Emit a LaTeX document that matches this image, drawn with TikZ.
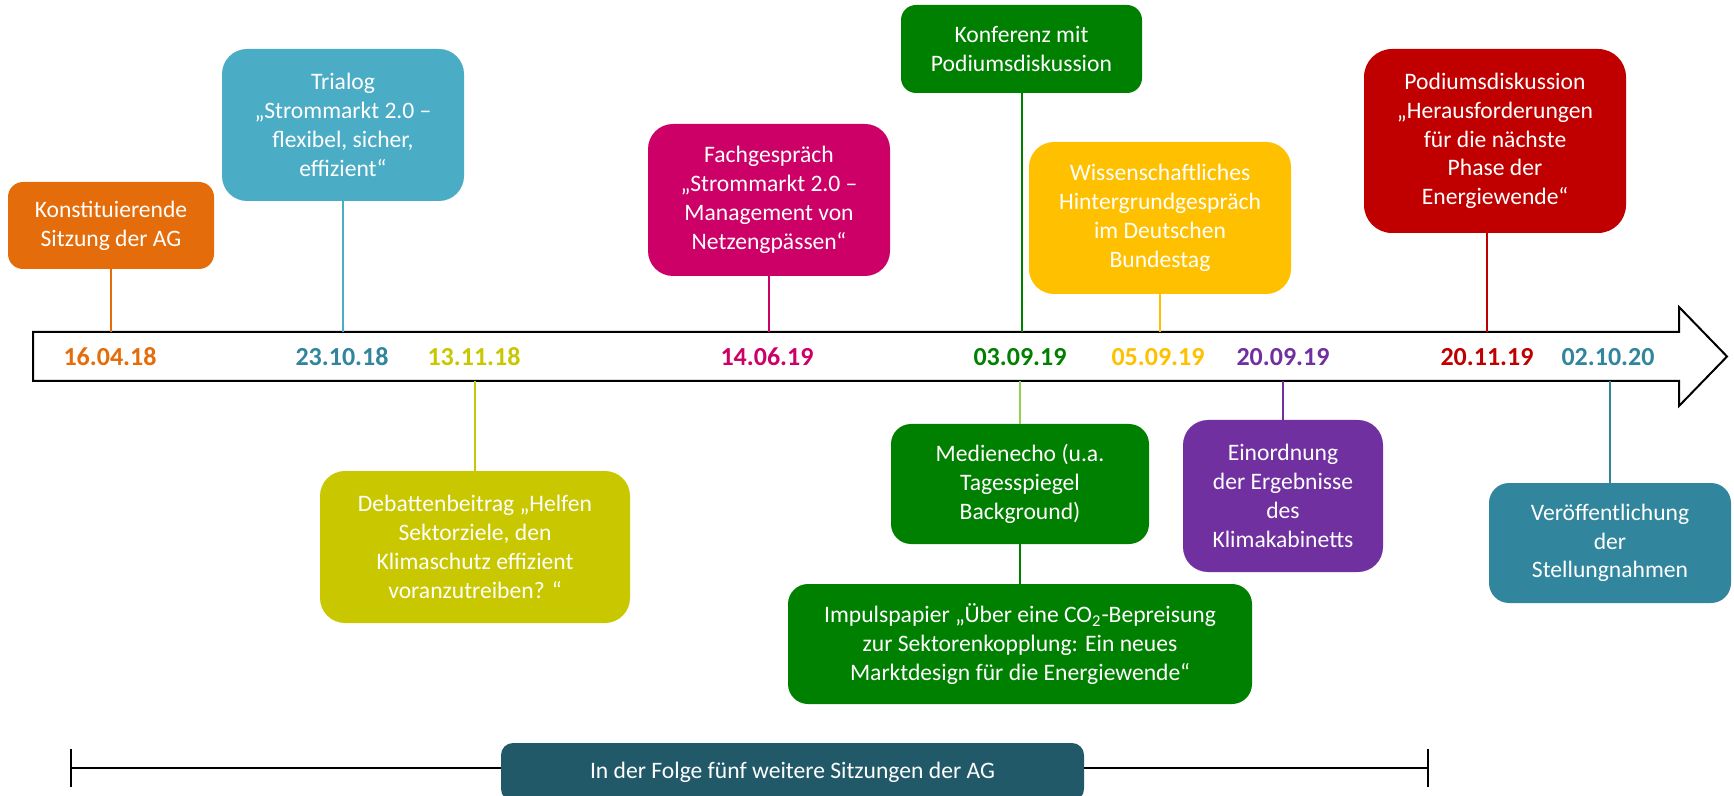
\documentclass[tikz,border=0pt]{standalone}
\usepackage{fontspec}
\setmainfont{Carlito}
\usetikzlibrary{calc}
\definecolor{corange}{HTML}{E46C0A}
\definecolor{clblue}{HTML}{4BACC6}
\definecolor{cteal}{HTML}{31859C}
\definecolor{cyg}{HTML}{C9C700}
\definecolor{cmag}{HTML}{CC0066}
\definecolor{cgreen}{HTML}{008000}
\definecolor{clgreen}{HTML}{92D050}
\definecolor{cgold}{HTML}{FFC000}
\definecolor{cpurple}{HTML}{7030A0}
\definecolor{cred}{HTML}{C00000}
\definecolor{cdark}{HTML}{215968}
\newcommand\bxfont{\fontsize{11.8}{14.4}\selectfont}
\newcommand\dtfont{\fontsize{13}{15}\selectfont\bfseries}
\tikzset{
  evbox/.style={rectangle, text=white, align=center, inner sep=0pt, font=\bxfont},
  dlabel/.style={font=\dtfont, inner sep=0pt, anchor=center},
  con/.style={line width=1pt, draw=#1},
  axis/.style={line width=1pt, draw=black},
}
\begin{document}
\begin{tikzpicture}[x=0.5pt,y=-0.5pt]
\useasboundingbox (0,0) rectangle (1734,796);
\begin{scope}
\clip (0,0) rectangle (1734,796);
% timeline arrow
\draw[axis, fill=white, line join=miter] (33,332) -- (1679,332) -- (1679,307) -- (1727,356.5) -- (1679,406) -- (1679,381) -- (33,381) -- cycle;
\coordinate (atop) at (0,332);
\coordinate (abot) at (0,381);
% dates
\node[dlabel, text=corange] (d1) at (110,357) {16.04.18};
\node[dlabel, text=cteal]   (d2) at (342,357) {23.10.18};
\node[dlabel, text=cyg]     (d3) at (474,357) {13.11.18};
\node[dlabel, text=cmag]    (d4) at (767,357) {14.06.19};
\node[dlabel, text=cgreen]  (d5) at (1020,357) {03.09.19};
\node[dlabel, text=cgold]   (d6) at (1158,357) {05.09.19};
\node[dlabel, text=cpurple] (d7) at (1283,357) {20.09.19};
\node[dlabel, text=cred]    (d8) at (1487,357) {20.11.19};
\node[dlabel, text=cteal]   (d9) at (1608,357) {02.10.20};
% upper boxes
\node[evbox, fill=corange, minimum width=103pt, minimum height=43.5pt, rounded corners=7.5pt] (b1) at (111,225.5) {Konstituierende\\Sitzung der AG};
\node[evbox, fill=clblue, minimum width=121pt, minimum height=76pt, rounded corners=12.5pt] (b2) at (343,125) {Trialog\\„Strommarkt 2.0 –\\flexibel, sicher,\\effizient“};
\node[evbox, fill=cmag, minimum width=121pt, minimum height=76pt, rounded corners=12.5pt] (b3) at (769,200) {Fachgespräch\\„Strommarkt 2.0 –\\Management von\\Netzengpässen“};
\node[evbox, fill=cgreen, minimum width=120.5pt, minimum height=44pt, rounded corners=7.5pt] (b4) at (1021.5,49) {Konferenz mit\\Podiumsdiskussion};
\node[evbox, fill=cgold, minimum width=131pt, minimum height=76pt, rounded corners=12.5pt] (b5) at (1160,218) {Wissenschaftliches\\Hintergrundgespräch\\im Deutschen\\Bundestag};
\node[evbox, fill=cred, minimum width=131pt, minimum height=92pt, rounded corners=14pt] (b6) at (1495,141) {Podiumsdiskussion\\„Herausforderungen\\für die nächste\\Phase der\\Energiewende“};
% lower boxes
\node[evbox, fill=cyg, minimum width=155pt, minimum height=76pt, rounded corners=12.5pt] (b7) at (475,547) {Debattenbeitrag „Helfen\\Sektorziele, den\\Klimaschutz effizient\\voranzutreiben? “};
\node[evbox, fill=cgreen, minimum width=129pt, minimum height=60pt, rounded corners=10pt] (b8) at (1020,484) {Medienecho (u.a.\\Tagesspiegel\\Background)};
\node[evbox, fill=cgreen, minimum width=232pt, minimum height=60pt, rounded corners=10pt] (b9) at (1020,644) {Impulspapier „Über eine CO\textsubscript{2}-Bepreisung\\zur Sektorenkopplung: Ein neues\\Marktdesign für die Energiewende“};
\node[evbox, fill=cpurple, minimum width=100pt, minimum height=76pt, rounded corners=12.5pt] (b10) at (1283,496) {Einordnung\\der Ergebnisse\\des\\Klimakabinetts};
\node[evbox, fill=cteal, minimum width=121pt, minimum height=60pt, rounded corners=10pt] (b11) at (1610,543) {Veröffentlichung\\der\\Stellungnahmen};
% connectors
\draw[con=corange] (b1.south) -- (b1.south |- atop);
\draw[con=clblue] (b2.south) -- (b2.south |- atop);
\draw[con=cmag] (b3.south) -- (b3.south |- atop);
\draw[con=cgreen] (b4.south) -- (b4.south |- atop);
\draw[con=cgold] (b5.south) -- (b5.south |- atop);
\draw[con=cred] (b6.south -| d8) -- (d8 |- atop);
\draw[con=cyg] (b7.north |- abot) -- (b7.north);
\draw[con=clgreen] (b8.north |- abot) -- (b8.north);
\draw[con=cgreen] (b8.south) -- (b9.north);
\draw[con=cpurple] (b10.north |- abot) -- (b10.north);
\draw[con=cteal] (b11.north |- abot) -- (b11.north);
% bottom bracket
\coordinate (bl) at (71,768);
\coordinate (br) at (1428,768);
\draw[axis] (bl) -- (br);
\draw[axis] ([yshift=9.5pt]bl) -- ([yshift=-9.5pt]bl);
\draw[axis] ([yshift=9.5pt]br) -- ([yshift=-9.5pt]br);
\node[evbox, fill=cdark, minimum width=291.5pt, minimum height=29pt, rounded corners=6pt] (b12) at (792.5,772) {In der Folge fünf weitere Sitzungen der AG};
\end{scope}
\end{tikzpicture}
\end{document}
